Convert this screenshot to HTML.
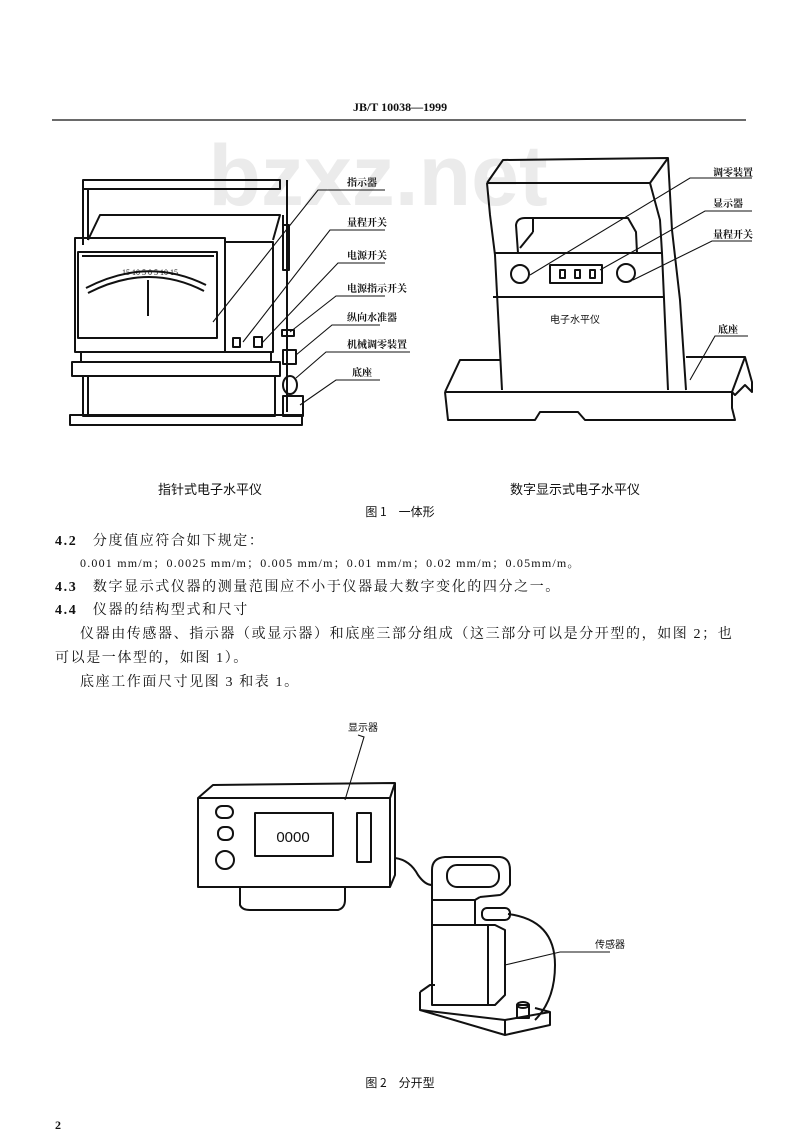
<!DOCTYPE html>
<html><head><meta charset="utf-8"><style>
html,body{margin:0;padding:0;background:#fff;}
svg{display:block;}
text{font-family:"Liberation Serif","Noto Serif CJK SC","Noto Sans CJK SC",serif;fill:#111;}
.s{fill:none;stroke:#111;stroke-width:2;stroke-linejoin:round;}
.t{fill:none;stroke:#111;stroke-width:1.1;}
.lb{font-size:10px;font-family:"Noto Sans CJK SC",sans-serif;font-weight:bold;}
.bd{font-size:14px;letter-spacing:1.6px;font-family:"Liberation Serif","Noto Sans CJK SC",serif;}
</style></head><body>
<svg width="800" height="1136" viewBox="0 0 800 1136" xmlns="http://www.w3.org/2000/svg">
<rect width="800" height="1136" fill="#fff"/>
<text x="400" y="111" text-anchor="middle" style="font-size:12px;font-weight:bold;">JB/T  10038—1999</text>
<line x1="52" y1="120" x2="746" y2="120" stroke="#111" stroke-width="1.3"/>
<text x="378" y="205" text-anchor="middle" style="font-size:86px;font-weight:bold;font-family:'Liberation Sans',sans-serif;fill:#ebebeb;">bzxz.net</text>

<!-- Fig 1 left -->
<g class="s">
<rect x="83" y="180" width="197" height="9"/>
<line x1="83" y1="180" x2="83" y2="245"/><line x1="88" y1="189" x2="88" y2="240"/>
<polyline points="88,240 100,215 280,215 273,240"/>
<rect x="75" y="238" width="150" height="114"/>
<rect x="225" y="242" width="48" height="110"/>
<rect x="78" y="252" width="139" height="86"/>
<line x1="82" y1="256" x2="214" y2="256"/>
<path d="M86,288 Q148,256 206,285 M88,293 Q148,262 204,291"/>
<line x1="148" y1="280" x2="148" y2="316"/>
<rect x="81" y="352" width="190" height="10"/>
<rect x="72" y="362" width="208" height="14"/>
<rect x="83" y="376" width="192" height="40"/>
<line x1="88" y1="376" x2="88" y2="416"/>
<rect x="70" y="415" width="232" height="10"/>
<line x1="287" y1="180" x2="287" y2="412"/><line x1="283" y1="215" x2="283" y2="270"/><rect x="283" y="225" width="6" height="45"/>
<rect x="233" y="338" width="7" height="9"/><rect x="254" y="337" width="8" height="10"/>
<rect x="282" y="330" width="12" height="6"/>
<rect x="283" y="350" width="13" height="14"/>
<ellipse cx="290" cy="385" rx="7" ry="9"/>
<rect x="283" y="396" width="20" height="20"/>
</g>
<text x="150" y="275" text-anchor="middle" style="font-size:8px;">15 10 5  0  5 10 15</text>
<g class="t">
<path d="M213,322 L318,190 L385,190"/>
<path d="M243,342 L330,230 L385,230"/>
<path d="M262,343 L338,263 L385,263"/>
<path d="M290,332 L336,296 L385,296"/>
<path d="M296,355 L332,325 L380,325"/>
<path d="M296,378 L326,352 L410,352"/>
<path d="M300,405 L336,380 L380,380"/>
</g>
<g class="lb">
<text x="347" y="186">指示器</text>
<text x="347" y="226">量程开关</text>
<text x="347" y="259">电源开关</text>
<text x="347" y="292">电源指示开关</text>
<text x="347" y="321">纵向水准器</text>
<text x="347" y="348">机械调零装置</text>
<text x="352" y="376">底座</text>
</g>

<!-- Fig 1 right -->
<g class="s">
<polyline points="487,183 503,160 668,158 650,183 487,183"/>
<path d="M487,183 L490,215 L495,255 L502,390"/>
<path d="M650,183 L660,220 L662,253 L668,390"/>
<path d="M668,158 L672,230 L680,300 L686,390"/>
<line x1="495" y1="253" x2="662" y2="253"/>
<line x1="493" y1="297" x2="664" y2="297"/>
<path d="M518,253 L516,225 Q517,218 525,218 L628,218 L636,232 L637,253"/>
<line x1="533" y1="218" x2="533" y2="232"/><line x1="520" y1="248" x2="533" y2="232"/>
<circle cx="520" cy="274" r="9"/><circle cx="626" cy="273" r="9"/>
<rect x="550" y="265" width="52" height="18"/>
<rect x="560" y="270" width="5" height="8"/><rect x="575" y="270" width="5" height="8"/><rect x="590" y="270" width="5" height="8"/>
<path d="M445,392 L460,360 L500,360"/>
<path d="M445,392 L732,392 L732,408 L735,420 L585,420 L578,412 L540,412 L535,420 L448,420 L445,392"/>
<path d="M686,357 L745,357 L752,382 L752,392 L745,385 L735,395 L732,392"/>
<line x1="745" y1="357" x2="732" y2="392"/>
</g>
<text x="575" y="323" text-anchor="middle" style="font-size:10px;font-family:'Noto Sans CJK SC',sans-serif;">电子水平仪</text>
<g class="t">
<path d="M530,275 L690,178 L752,178"/>
<path d="M600,270 L705,211 L752,211"/>
<path d="M633,280 L712,241 L752,241"/>
<path d="M690,380 L715,336 L748,336"/>
</g>
<g class="lb">
<text x="713" y="176">调零装置</text>
<text x="713" y="207">显示器</text>
<text x="713" y="238">量程开关</text>
<text x="718" y="333">底座</text>
</g>

<text x="210" y="494" text-anchor="middle" style="font-size:13px;font-family:'Noto Sans CJK SC',sans-serif;">指针式电子水平仪</text>
<text x="575" y="494" text-anchor="middle" style="font-size:13px;font-family:'Noto Sans CJK SC',sans-serif;">数字显示式电子水平仪</text>
<text x="400" y="516" text-anchor="middle" style="font-size:12px;font-family:'Noto Sans CJK SC',sans-serif;">图 1　一体形</text>

<g class="bd">
<text x="55" y="545"><tspan font-weight="bold">4.2</tspan>　分度值应符合如下规定：</text>
<text x="80" y="567" style="font-size:12px;letter-spacing:1.2px;">0.001 mm/m；0.0025 mm/m；0.005 mm/m；0.01 mm/m；0.02 mm/m；0.05mm/m。</text>
<text x="55" y="591"><tspan font-weight="bold">4.3</tspan>　数字显示式仪器的测量范围应不小于仪器最大数字变化的四分之一。</text>
<text x="55" y="614"><tspan font-weight="bold">4.4</tspan>　仪器的结构型式和尺寸</text>
<text x="80" y="638">仪器由传感器、指示器（或显示器）和底座三部分组成（这三部分可以是分开型的，如图 2；也</text>
<text x="55" y="662">可以是一体型的，如图 1）。</text>
<text x="80" y="686">底座工作面尺寸见图 3 和表 1。</text>
</g>

<!-- Fig 2 -->
<g class="s">
<polyline points="198,798 213,785 395,783 390,798"/>
<rect x="198" y="798" width="192" height="89"/>
<polyline points="390,887 395,875 395,783"/>
<path d="M240,887 L240,905 Q242,910 250,910 L338,910 Q345,908 345,900 L345,887"/>
<rect x="255" y="813" width="78" height="43"/>
<rect x="357" y="813" width="14" height="49"/>
<rect x="216" y="806" width="17" height="12" rx="6"/>
<rect x="218" y="827" width="15" height="13" rx="6"/>
<circle cx="225" cy="860" r="9"/>
<path d="M395,858 Q410,860 418,875 Q425,885 432,885"/>
<path d="M432,870 Q432,858 445,857 L500,857 Q510,858 510,870 L510,885 Q505,893 500,895 L480,897"/>
<rect x="447" y="865" width="52" height="22" rx="10"/>
<path d="M432,870 L432,900 L475,900 L480,897"/>
<polyline points="432,900 432,1005 495,1005 505,995 505,930 495,925 432,925"/>
<line x1="488" y1="925" x2="488" y2="1005"/><line x1="475" y1="900" x2="475" y2="925"/>
<rect x="482" y="908" width="28" height="12" rx="5"/>
<path d="M508,914 Q555,920 555,965 Q555,1000 535,1020"/>
<path d="M420,992 L430,985 L435,985 M420,992 L420,1010 L505,1035 L550,1025 L550,1012 L535,1008"/>
<line x1="420" y1="1010" x2="505" y2="1020"/><line x1="505" y1="1020" x2="505" y2="1035"/><line x1="505" y1="1020" x2="550" y2="1012"/>
<rect x="517" y="1005" width="12" height="13"/><ellipse cx="523" cy="1005" rx="6" ry="3"/>
</g>
<text x="293" y="842" text-anchor="middle" style="font-size:15px;font-family:'Liberation Sans',sans-serif;">0000</text>
<g class="t">
<path d="M358,735 L364,737 L345,800"/>
<path d="M505,965 L560,952 L610,952"/>
</g>
<text x="348" y="731" class="lb" style="font-weight:normal;">显示器</text>
<text x="595" y="948" class="lb" style="font-weight:normal;">传感器</text>
<text x="400" y="1087" text-anchor="middle" style="font-size:12px;font-family:'Noto Sans CJK SC',sans-serif;">图 2　分开型</text>
<text x="55" y="1129" style="font-size:12px;font-weight:bold;">2</text>
</svg>
</body></html>
